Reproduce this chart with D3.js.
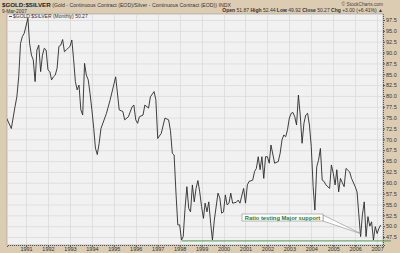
<!DOCTYPE html>
<html>
<head>
<meta charset="utf-8">
<script src="https://cdn.jsdelivr.net/npm/d3@7"></script>
<style>
  html, body { margin: 0; padding: 0; background: #dccdb2; }
  svg { display: block; font-family: "Liberation Sans", Arial, sans-serif; }
</style>
</head>
<body>
<div id="chart"></div>
<script>
// monthly $GOLD:$SILVER ratio
const months = [
  "1990-02","1990-05","1990-07","1990-08","1990-09","1990-10","1990-11","1990-12",
  "1991-02","1991-03","1991-04","1991-05","1991-06","1991-07","1991-08","1991-09","1991-10","1991-11","1991-12",
  "1992-01","1992-02","1992-03","1992-04","1992-05","1992-06","1992-07","1992-08","1992-09","1992-10","1992-11","1992-12",
  "1993-01","1993-02","1993-03","1993-04","1993-05","1993-06","1993-07","1993-08","1993-09","1993-10","1993-11","1993-12",
  "1994-01","1994-02","1994-03","1994-04","1994-05","1994-06","1994-09","1994-11",
  "1995-02","1995-04","1995-06","1995-07","1995-09","1995-11","1995-12",
  "1996-01","1996-02","1996-03","1996-05","1996-06","1996-08","1996-09","1996-11","1996-12",
  "1997-01","1997-03","1997-05","1997-07","1997-08","1997-09","1997-10","1997-11","1997-12",
  "1998-01","1998-02","1998-03","1998-04","1998-05","1998-06","1998-07","1998-08","1998-09","1998-10","1998-11","1998-12",
  "1999-01","1999-02","1999-03","1999-04","1999-05","1999-06","1999-07","1999-08","1999-10","1999-11","1999-12",
  "2000-01","2000-02","2000-03","2000-04","2000-05","2000-06","2000-08","2000-09","2000-10","2000-12",
  "2001-01","2001-02","2001-03","2001-05","2001-06","2001-07","2001-08","2001-09","2001-10","2001-11","2001-12",
  "2002-01","2002-02","2002-03","2002-05","2002-07","2002-08","2002-09","2002-10","2002-11","2002-12",
  "2003-01","2003-02","2003-03","2003-04","2003-05","2003-06","2003-07","2003-08","2003-09","2003-10","2003-11","2003-12",
  "2004-01","2004-02","2004-03","2004-04","2004-05","2004-06","2004-07","2004-08","2004-09","2004-11","2004-12",
  "2005-01","2005-02","2005-03","2005-04","2005-05","2005-06","2005-07","2005-08","2005-10","2005-11",
  "2006-01","2006-02","2006-03","2006-04","2006-05","2006-06","2006-07","2006-08","2006-09","2006-10","2006-11","2006-12",
  "2007-01","2007-02","2007-03"
];
const ratio = [
  75.2, 72.5, 77.5, 79.8, 84.4, 92.1, 93.7, 94.4,
  97.9, 92.1, 89.4, 88.3, 83.3, 90.6, 91.7, 85.6, 89.4, 91.0, 90.6,
  86.0, 85.6, 83.7, 84.4, 84.8, 86.4, 91.4, 91.7, 93.0, 90.2, 90.6, 91.0,
  91.4, 92.9, 88.7, 83.3, 81.4, 82.5, 76.8, 75.6, 87.5, 84.8, 83.7, 80.6,
  76.8, 72.5, 68.0, 66.5, 69.0, 72.5, 76.0, 79.1,
  84.4, 76.8, 76.4, 74.5, 75.2, 77.5, 77.9,
  74.5, 73.7, 75.2, 75.6, 77.9, 77.2, 79.8, 81.0, 79.1,
  70.2, 71.4, 74.9, 74.5, 72.0, 66.8, 66.4, 57.6, 50.3,
  50.3, 46.8, 47.6, 54.1, 59.1, 54.1, 53.3, 59.5, 55.6, 58.7, 60.5, 57.9,
  54.5, 51.8, 55.3, 53.3, 55.6, 50.7, 46.8, 51.4, 57.6, 56.5, 53.0,
  53.3, 57.2, 54.9, 55.3, 57.6, 55.3, 55.5, 56.0, 55.3, 58.7,
  55.3, 59.5, 60.3, 60.6, 62.6, 63.3, 66.0, 63.0, 66.0, 61.0, 66.0,
  66.0, 64.5, 68.7, 64.5, 64.9, 66.8, 69.9, 71.0, 70.6, 72.2,
  74.9, 76.0, 76.2, 75.2, 73.3, 80.2, 75.6, 69.1, 73.7, 75.6, 76.0, 73.3,
  68.3, 59.1, 53.7, 63.7, 65.2, 67.9, 60.6, 60.3, 59.5, 58.7, 64.1,
  62.2, 59.5, 63.0, 57.9, 61.0, 60.0, 59.1, 63.3, 62.5, 61.0,
  59.1, 57.9, 53.0, 47.6, 52.6, 55.6, 47.6, 52.2, 50.0, 51.0, 46.8, 49.9,
  48.3, 49.5, 50.27
];
const yTicks = [47.5, 50, 52.5, 55, 57.5, 60, 62.5, 65, 67.5, 70, 72.5, 75, 77.5, 80, 82.5, 85, 87.5, 90, 92.5, 95, 97.5];
const years = d3.range(1991, 2008);
const supportLevel = 46.6;
const supportStart = "1998-02";

const W = 400, H = 253;
const plot = { left: 7, right: 383, top: 14, bottom: 245 };
const parse = d3.timeParse("%Y-%m");
const data = months.map((m, i) => ({ date: parse(m), value: ratio[i] }));

const x = d3.scaleTime()
  .domain([new Date(1990, 1, 18), new Date(2007, 3, 9)])
  .range([plot.left, plot.right]);
const y = d3.scaleLinear()
  .domain([45.66, 98.88])
  .range([plot.bottom, plot.top]);

const svg = d3.select("#chart").append("svg")
  .attr("width", W).attr("height", H);

svg.append("rect").attr("width", W).attr("height", H).attr("fill", "#dccdb2");

// plot background
svg.append("rect")
  .attr("x", plot.left).attr("y", plot.top)
  .attr("width", plot.right - plot.left).attr("height", plot.bottom - plot.top)
  .attr("fill", "#f1f1f1")
  .attr("stroke", "#9a9a9a").attr("stroke-width", 0.6);

const clip = svg.append("clipPath").attr("id", "clip")
  .append("rect")
  .attr("x", plot.left).attr("y", plot.top)
  .attr("width", plot.right - plot.left).attr("height", plot.bottom - plot.top);

// grid
const grid = svg.append("g").attr("clip-path", "url(#clip)");
grid.selectAll(".hg").data(yTicks).enter().append("line")
  .attr("x1", plot.left).attr("x2", plot.right)
  .attr("y1", d => y(d) + 0.5).attr("y2", d => y(d) + 0.5)
  .attr("stroke", "#dadada").attr("stroke-width", 0.8);
grid.selectAll(".vg").data(years).enter().append("line")
  .attr("x1", d => Math.round(x(new Date(d, 0, 1))) + 0.5)
  .attr("x2", d => Math.round(x(new Date(d, 0, 1))) + 0.5)
  .attr("y1", plot.top).attr("y2", plot.bottom)
  .attr("stroke", "#dadada").attr("stroke-width", 0.8);

// right axis
const yAxis = d3.axisRight(y).tickValues(yTicks).tickSize(2).tickFormat(d3.format(".1f"));
const ya = svg.append("g").attr("transform", `translate(${plot.right},0)`).call(yAxis);
ya.select(".domain").attr("stroke", "#555").attr("stroke-dasharray", "1,1");
ya.selectAll(".tick line").attr("stroke", "#555");
ya.selectAll("text").attr("font-size", 5.5).attr("fill", "#333").attr("x", 3);

// bottom axis
const xAxis = d3.axisBottom(x)
  .tickValues(years.map(d => new Date(d, 0, 1)))
  .tickSize(2).tickFormat(d3.timeFormat("%Y"));
const xa = svg.append("g").attr("transform", `translate(0,${plot.bottom})`).call(xAxis);
xa.select(".domain").attr("stroke", "#555").attr("stroke-dasharray", "1,1");
xa.selectAll(".tick line").attr("stroke", "#555");
xa.selectAll("text").attr("font-size", 5.5).attr("fill", "#333").attr("y", 2.5);

// support line
svg.append("line")
  .attr("x1", x(parse(supportStart))).attr("x2", plot.right + 8)
  .attr("y1", y(supportLevel)).attr("y2", y(supportLevel))
  .attr("stroke", "#4f9a4f").attr("stroke-width", 1);

// ratio line
svg.append("path")
  .datum(data)
  .attr("clip-path", "url(#clip)")
  .attr("fill", "none")
  .attr("stroke", "#2a2a2a")
  .attr("stroke-width", 0.9)
  .attr("stroke-linejoin", "round")
  .attr("d", d3.line().x(d => x(d.date)).y(d => y(d.value)));

// annotation callout
const bx = 242, by = 214, bw = 81, bh = 7;
const tip = [x(parse("2006-04")) + 1, y(48.2)];
svg.append("path")
  .attr("d", `M${bx + bw},${by + 1}L${tip[0]},${tip[1]}L${bx + bw},${by + bh}Z`)
  .attr("fill", "#fff").attr("stroke", "#777").attr("stroke-width", 0.5);
svg.append("rect")
  .attr("x", bx).attr("y", by).attr("width", bw).attr("height", bh)
  .attr("fill", "#fff").attr("stroke", "#777").attr("stroke-width", 0.5);
svg.append("text")
  .attr("x", bx + bw / 2).attr("y", by + 5.6)
  .attr("text-anchor", "middle")
  .attr("font-size", 5.8).attr("font-weight", "bold")
  .attr("fill", "#2e7a2e")
  .text("Ratio testing Major support");

// legend inside plot
svg.append("line")
  .attr("x1", plot.left + 2).attr("x2", plot.left + 5)
  .attr("y1", 16.5).attr("y2", 16.5)
  .attr("stroke", "#222").attr("stroke-width", 0.8);
svg.append("text")
  .attr("x", plot.left + 6).attr("y", 18.2)
  .attr("font-size", 5).attr("fill", "#333")
  .text("$GOLD:$SILVER (Monthly) 50.27");

// header
const head = svg.append("text").attr("x", 2).attr("y", 7).attr("font-size", 5.2).attr("fill", "#333");
head.append("tspan").attr("font-weight", "bold").attr("font-size", 6.2).attr("fill", "#222").text("$GOLD:$SILVER");
head.append("tspan").text(" (Gold - Continuous Contract (EOD)/Silver - Continuous Contract (EOD)) INDX");
svg.append("text").attr("x", 2).attr("y", 12.6).attr("font-size", 4.8).attr("fill", "#333").text("9-Mar-2007");

svg.append("text").attr("x", 383).attr("y", 6).attr("text-anchor", "end")
  .attr("font-size", 4.8).attr("fill", "#444").text("© StockCharts.com");

const ohlc = svg.append("text").attr("x", 383).attr("y", 11.8).attr("text-anchor", "end")
  .attr("font-size", 5).attr("fill", "#333");
[["Open", " 51.87 "], ["High", " 52.44 "], ["Low", " 49.92 "], ["Close", " 50.27 "], ["Chg", " +3.00 (+6.41%) ▲"]]
  .forEach(([k, v]) => {
    ohlc.append("tspan").attr("font-weight", "bold").text(k);
    ohlc.append("tspan").text(v);
  });
</script>
</body>
</html>
